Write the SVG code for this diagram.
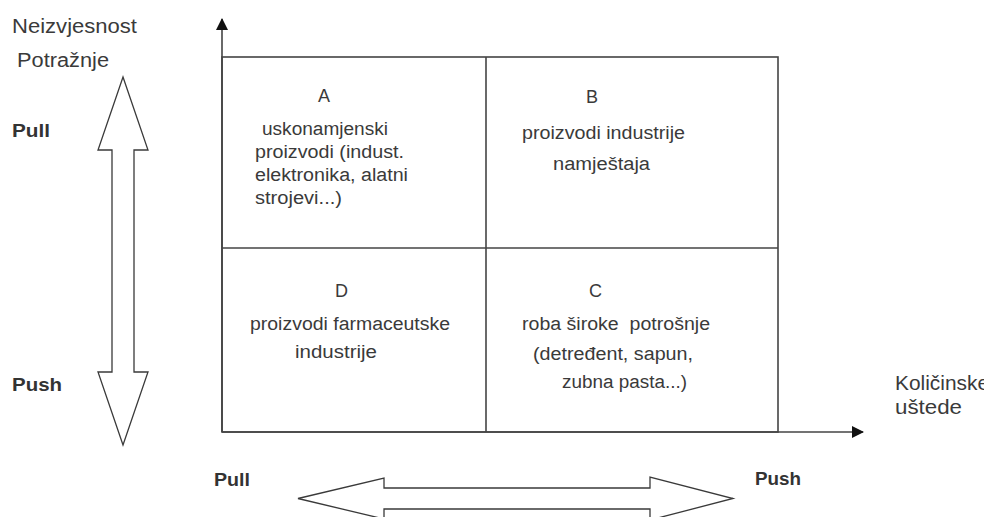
<svg xmlns="http://www.w3.org/2000/svg" width="984" height="517" viewBox="0 0 984 517">
<defs>
<style>
.t{font-family:"Liberation Sans",Arial,sans-serif;font-size:18px;fill:#3a3a3a}
.lab{font-family:"Liberation Sans",Arial,sans-serif;font-size:20px;fill:#3a3a3a}
.b{font-family:"Liberation Sans",Arial,sans-serif;font-size:19px;font-weight:bold;fill:#333}
.ln{stroke:#444;stroke-width:1.6;fill:none}
.dbl{fill:#fff;stroke:#3a3a3a;stroke-width:1.3;stroke-linejoin:miter}
</style>
<marker id="ah" viewBox="0 0 12 12" refX="11" refY="6" markerWidth="12" markerHeight="12" markerUnits="userSpaceOnUse" orient="auto">
<path d="M0,0 L12,6 L0,12 z" fill="#111"/>
</marker>
</defs>
<rect width="984" height="517" fill="#fff"/>
<g id="connectors">
<line class="ln" x1="222" y1="432" x2="222" y2="19" marker-end="url(#ah)"/>
<line class="ln" x1="222" y1="432" x2="863" y2="432" marker-end="url(#ah)"/>
<polygon class="dbl" points="123,77 148,150 134,150 134,372 148,372 123,445 98,372 112,372 112,150 98,150"/>
<polygon class="dbl" points="298,498.5 384,478 384,488 650,488 650,477 733,498.5 650,520 650,509 384,509 384,519"/>
</g>
<g id="grid">
<rect class="ln" x="222" y="57" width="556" height="375"/>
<line class="ln" x1="486" y1="57" x2="486" y2="432"/>
<line class="ln" x1="222" y1="248" x2="778" y2="248"/>
</g>
<g id="quadA">
<text class="t" x="318" y="102">A</text>
<text class="t" x="262" y="135" textLength="126" lengthAdjust="spacingAndGlyphs">uskonamjenski</text>
<text class="t" x="255" y="158" textLength="149" lengthAdjust="spacingAndGlyphs">proizvodi (indust.</text>
<text class="t" x="255" y="181" textLength="153" lengthAdjust="spacingAndGlyphs">elektronika, alatni</text>
<text class="t" x="255" y="204" textLength="87" lengthAdjust="spacingAndGlyphs">strojevi...)</text>
</g>
<g id="quadB">
<text class="t" x="586" y="103">B</text>
<text class="t" x="522" y="139" textLength="163" lengthAdjust="spacingAndGlyphs">proizvodi industrije</text>
<text class="t" x="553" y="170" textLength="97" lengthAdjust="spacingAndGlyphs">namještaja</text>
</g>
<g id="quadD">
<text class="t" x="335" y="297">D</text>
<text class="t" x="250" y="330" textLength="200" lengthAdjust="spacingAndGlyphs">proizvodi farmaceutske</text>
<text class="t" x="295" y="358" textLength="82" lengthAdjust="spacingAndGlyphs">industrije</text>
</g>
<g id="quadC">
<text class="t" x="589" y="297">C</text>
<text class="t" x="522" y="330" textLength="188" lengthAdjust="spacingAndGlyphs" xml:space="preserve">roba široke  potrošnje</text>
<text class="t" x="533" y="360" textLength="160" lengthAdjust="spacingAndGlyphs">(detređent, sapun,</text>
<text class="t" x="562" y="388" textLength="125" lengthAdjust="spacingAndGlyphs">zubna pasta...)</text>
</g>
<g id="yLabel">
<text class="lab" x="12" y="33" textLength="125" lengthAdjust="spacingAndGlyphs">Neizvjesnost</text>
<text class="lab" x="17" y="67" textLength="92" lengthAdjust="spacingAndGlyphs">Potražnje</text>
</g>
<g id="xLabel">
<text class="lab" x="895" y="390" textLength="94" lengthAdjust="spacingAndGlyphs">Količinske</text>
<text class="lab" x="895" y="414" textLength="67" lengthAdjust="spacingAndGlyphs">uštede</text>
</g>
<g id="pullPushLabels">
<text class="b" x="12" y="137" textLength="38" lengthAdjust="spacingAndGlyphs">Pull</text>
<text class="b" x="12" y="391" textLength="50" lengthAdjust="spacingAndGlyphs">Push</text>
<text class="b" x="214" y="486" textLength="36" lengthAdjust="spacingAndGlyphs">Pull</text>
<text class="b" x="755" y="485" textLength="46" lengthAdjust="spacingAndGlyphs">Push</text>
</g>
</svg>
